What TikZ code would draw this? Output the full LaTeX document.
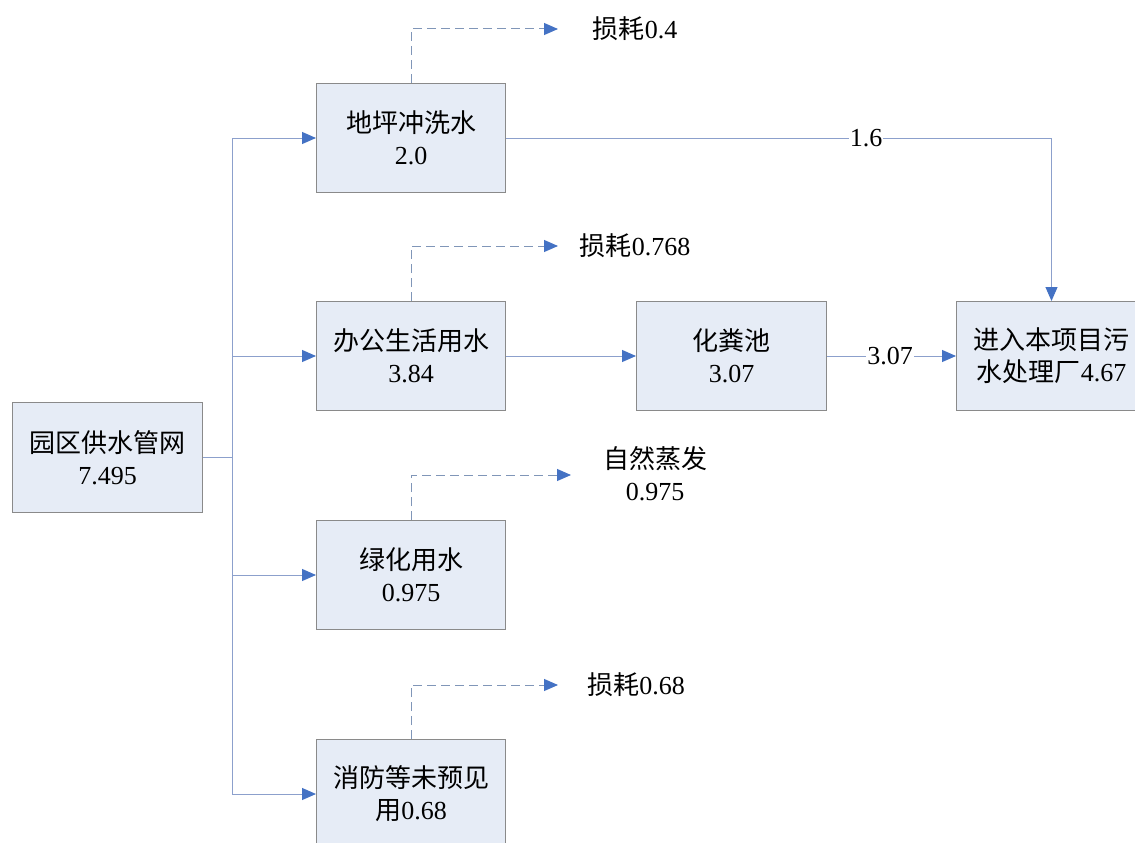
\documentclass[tikz,border=0pt]{standalone}
\usepackage{fontspec}
\setmainfont{Liberation Serif}
\newfontfamily\cjk{Noto Sans CJK SC}
\usetikzlibrary{arrows.meta}
\definecolor{boxfill}{HTML}{E6ECF6}
\definecolor{boxline}{HTML}{8A8A8A}
\definecolor{flow}{HTML}{8CA0CC}
\definecolor{tipc}{HTML}{4472C4}
\definecolor{dashc}{HTML}{8096B8}
\begin{document}
\begin{tikzpicture}[x=1pt,y=-1pt,
  box/.style={draw=boxline, fill=boxfill, line width=1pt, minimum width=189pt,
    minimum height=109pt, inner sep=0pt, align=center,
    font=\fontsize{26}{32}\selectfont, anchor=north west},
  lbl/.style={inner sep=1pt, align=center, font=\fontsize{26}{32}\selectfont},
  flowline/.style={draw=flow, line width=1pt, -{Triangle[length=14pt,width=12pt,color=tipc]}},
  lossline/.style={draw=dashc, line width=1pt, dash pattern=on 9pt off 5pt,
    -{Triangle[length=14pt,width=12pt,color=tipc]}}]
\useasboundingbox (0,0) rectangle (1135,843);
\clip (0,0) rectangle (1135,843);
\fill[white] (0,0) rectangle (1135,843);

% boxes
\node[box, minimum width=190pt, minimum height=110pt] (src) at (12,402) {{\cjk 园区供水管网}\\7.495};
\node[box] (b1) at (316,83) {{\cjk 地坪冲洗水}\\2.0};
\node[box] (b2) at (316,301) {{\cjk 办公生活用水}\\3.84};
\node[box] (b3) at (316,520) {{\cjk 绿化用水}\\0.975};
\node[box] (b4) at (316,739) {{\cjk 消防等未预见}\\{\cjk 用}0.68};
\node[box, minimum width=190pt] (sep) at (636,301) {{\cjk 化粪池}\\3.07};
\node[box, minimum width=190pt] (wwtp) at (956,301) {{\cjk 进入本项目污}\\{\cjk 水处理厂}4.67};

% loss labels
\node[lbl] (l1) at (635,29) {{\cjk 损耗}0.4};
\node[lbl] (l2) at (635,246) {{\cjk 损耗}0.768};
\node[lbl] (l3) at (655,474) {{\cjk 自然蒸发}\\0.975};
\node[lbl] (l4) at (636,685) {{\cjk 损耗}0.68};

\coordinate (t1) at (558,29);
\coordinate (t2) at (558,246);
\coordinate (t3) at (571,475);
\coordinate (t4) at (558,685);
\path (src.east) ++(29,0) coordinate (j);

% supply trunk
\draw[draw=flow, line width=1pt] (src.east) -- (j);
\draw[flowline] (j) |- (b1.west);
\draw[flowline] (j) |- (b2.west);
\draw[flowline] (j) |- (b3.west);
\draw[flowline] (j) |- (b4.west);

% process flows
\draw[flowline] (b1.east) -| node[pos=0.33, fill=white, lbl] {1.6} (wwtp.north);
\draw[flowline] (b2.east) -- (sep.west);
\draw[flowline] (sep.east) -- node[pos=0.49, fill=white, lbl] {3.07} (wwtp.west);

% losses
\draw[lossline] (b1.north) |- (t1);
\draw[lossline] (b2.north) |- (t2);
\draw[lossline] (b3.north) |- (t3);
\draw[lossline] (b4.north) |- (t4);
\end{tikzpicture}
\end{document}
